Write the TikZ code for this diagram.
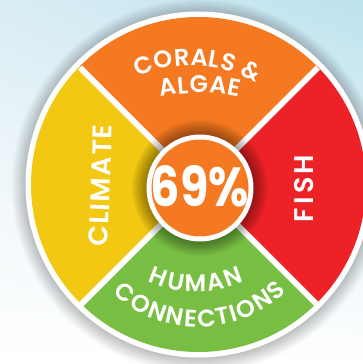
\documentclass[tikz,border=0pt]{standalone}
\usepackage{fontspec}
\setmainfont{Poppins}[BoldFont={Poppins SemiBold}]
\newfontfamily\heavyfont{Poppins}[UprightFont={* Bold}]
\usetikzlibrary{decorations.text,calc,shadings}
\definecolor{corange}{HTML}{F47920}
\definecolor{cred}{HTML}{EC2227}
\definecolor{cyellow}{HTML}{F2C813}
\definecolor{cgreen}{HTML}{78BE43}
\definecolor{bgA}{HTML}{DAEDF4}
\definecolor{bgB}{HTML}{BCE2EE}
\definecolor{bgC}{HTML}{F0F7FA}
\definecolor{bgD}{HTML}{E4F2F7}
\newcommand\qfont{\bfseries\fontsize{24}{24}\selectfont}
\newcommand\bfont{\bfseries\fontsize{24}{24}\selectfont}
\tikzset{
  arctext/.style={decorate, decoration={text along path, text align={fit to path}, text color=white, text={#1}}},
  sidetext/.style={text=white, inner sep=0pt},
}
\begin{document}
\begin{tikzpicture}[x=1pt,y=1pt]
\useasboundingbox (0,0) rectangle (363,364);
\shade[upper left=bgA, upper right=bgB, lower left=bgC, lower right=bgD] (0,182) rectangle (363,364);
\shade[upper left=bgC, upper right=bgD, lower left=white, lower right=white] (0,0) rectangle (363,182.5);
\coordinate (O) at (198.5,179.5);
\coordinate (D) at (199,177.5);
\coordinate (I) at (200,176);
% outer shadow
\foreach \k in {0,...,14} \fill[black,opacity=0.016] ($(O)+(0,-1.5)$) circle[radius=173+\k];
\fill[white] (O) circle[radius=173];
% sectors
\fill[corange] (D) -- ($(O)+(45:167.5)$) arc[start angle=45,end angle=135,radius=167.5] -- cycle;
\fill[cyellow] (D) -- ($(O)+(135:167.5)$) arc[start angle=135,end angle=225,radius=167.5] -- cycle;
\fill[cgreen] (D) -- ($(O)+(225:167.5)$) arc[start angle=225,end angle=315,radius=167.5] -- cycle;
\fill[cred] (D) -- ($(O)+(315:167.5)$) arc[start angle=315,end angle=405,radius=167.5] -- cycle;
\foreach \a in {45,135,225,315} \draw[white, line width=6pt] (D) -- ($(D)+(\a:168)$);
% centre shadow
\foreach \k in {0,...,15} \fill[black,opacity=0.026] (I) circle[radius=53+\k];
\fill[white] (I) circle[radius=53.5];
\fill[corange] (I) circle[radius=48.5];
\node[sidetext, font=\heavyfont\fontsize{55}{55}\selectfont] (pct) at (200,178) {\scalebox{0.84}[1]{69\%}};
% arc texts
\coordinate (cA) at (191,168.2);
\coordinate (cB) at (199,91.1);
\coordinate (cC) at (196,187);
\coordinate (cD) at (199,164);
\path[arctext={|\qfont|CORALS {\&}}] ($(cA)+(114:130.5)$) arc[start angle=114,end angle=60,radius=130.5];
\path[arctext={|\qfont|ALGAE}] ($(cB)+(102.4:180)$) arc[start angle=102.4,end angle=77.1,radius=180];
\path[arctext={|\bfont|HUMAN}] ($(cC)+(245.3:115)$) arc[start angle=245.3,end angle=294.6,radius=115];
\path[arctext={|\bfont|CONNECTIONS}] ($(cD)+(227.4:127)$) arc[start angle=227.4,end angle=313.7,radius=127];
% side texts
\node[sidetext, rotate=88, font=\bfseries\fontsize{27}{27}\selectfont\addfontfeature{LetterSpace=5}] (climate) at (100.5,178.5) {CLIMATE};
\node[sidetext, rotate=90, font=\bfseries\fontsize{27}{27}\selectfont\addfontfeature{LetterSpace=12}] (fish) at (304,175.5) {FISH};
\end{tikzpicture}
\end{document}
